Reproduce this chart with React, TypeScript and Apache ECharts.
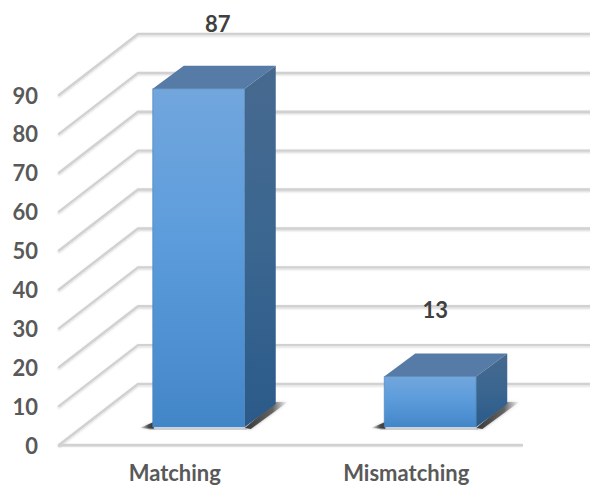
import React, { useEffect, useRef } from "react";
import * as echarts from "echarts";

const categories = ["Matching", "Mismatching"];
const values = [87, 13];
const yTicks = [0, 10, 20, 30, 40, 50, 60, 70, 80, 90];

const FONT = "Lato, Carlito, 'Open Sans', sans-serif";
const WALL_DX = 79;
const WALL_DY = -61;
const BAR_SHIFT_X = 24;
const BAR_SHIFT_Y = -18;
const BAR_W = 92;
const DEPTH_X = 31;
const DEPTH_Y = -23;
const LABEL_DX = [19, 5];
const LABEL_DY = [-65, -67];

const vGrad = (stops: [number, string][]) =>
  new echarts.graphic.LinearGradient(0, 0, 0, 1, stops.map(([offset, color]) => ({ offset, color })));
const hGrad = (x: number, y: number, x2: number, y2: number, stops: [number, string][]) =>
  new echarts.graphic.LinearGradient(x, y, x2, y2, stops.map(([offset, color]) => ({ offset, color })));

const renderGrid = (params: any, api: any) => {
  const y = api.coord([0, api.value(1)])[1];
  const x0 = params.coordSys.x;
  const x1 = x0 + params.coordSys.width;
  const style = {
    fill: "none",
    stroke: "#d1d1d1",
    lineWidth: 2.4,
    lineJoin: "round",
    lineCap: "round",
    shadowColor: "rgba(0,0,0,0.18)",
    shadowBlur: 2,
    shadowOffsetY: 1,
  };
  const children: any[] = [
    {
      type: "polyline",
      shape: { points: [[x0, y], [x0 + WALL_DX, y + WALL_DY], [x1 + WALL_DX, y + WALL_DY]] },
      style,
    },
  ];
  if (api.value(1) === 0) {
    children.push({
      type: "line",
      shape: { x1: x0, y1: y + 1, x2: x1, y2: y + 1 },
      style: { stroke: "rgba(0,0,0,0.1)", lineWidth: 2.4, lineCap: "round" },
    });
    children.push({
      type: "line",
      shape: { x1: x0, y1: y, x2: x1, y2: y },
      style: { stroke: "#d1d1d1", lineWidth: 2.4, lineCap: "round" },
    });
  }
  return { type: "group", children };
};

const renderBar = (params: any, api: any) => {
  const idx = api.value(0);
  const val = api.value(1);
  const top = api.coord([idx, val]);
  const base = api.coord([idx, 0]);
  const l = top[0] + BAR_SHIFT_X - BAR_W / 2;
  const r = l + BAR_W;
  const t = top[1] + BAR_SHIFT_Y;
  const b = base[1] + BAR_SHIFT_Y;
  return {
    type: "group",
    children: [
      {
        type: "polygon",
        shape: { points: [[r, b + 1], [r + DEPTH_X, b + DEPTH_Y - 2], [r + DEPTH_X + 12, b + DEPTH_Y - 2], [r + 6, b + 2]] },
        style: {
          fill: hGrad(0, 0, 1, 0, [[0, "rgba(40,40,40,0.9)"], [0.65, "rgba(70,70,70,0.75)"], [1, "rgba(150,150,150,0.05)"]]),
          shadowColor: "rgba(90,90,90,0.6)",
          shadowBlur: 3,
        },
      },
      {
        type: "polygon",
        shape: { points: [[l - 13, b + 1], [l + 1, b - 5], [l + 1, b + 2]] },
        style: {
          fill: hGrad(0, 0, 1, 0, [[0, "rgba(120,120,120,0.1)"], [0.6, "rgba(55,55,55,0.85)"], [1, "rgba(40,40,40,0.95)"]]),
          shadowColor: "rgba(90,90,90,0.4)",
          shadowBlur: 2,
        },
      },
      {
        type: "line",
        shape: { x1: l - 4, y1: b + 2, x2: r + 2, y2: b + 2 },
        style: { stroke: "rgba(140,140,140,0.55)", lineWidth: 1.5 },
      },
      {
        type: "rect",
        shape: { x: l, y: t, width: BAR_W, height: b - t },
        style: {
          fill: vGrad([[0, "#72a6dd"], [0.45, "#5c9cdc"], [1, "#4386c8"]]),
          stroke: "#4f86bd",
          lineWidth: 0.7,
        },
      },
      {
        type: "polygon",
        shape: { points: [[l, t], [l + DEPTH_X, t + DEPTH_Y], [r + DEPTH_X, t + DEPTH_Y], [r, t]] },
        style: { fill: "#567ba6" },
      },
      {
        type: "polygon",
        shape: { points: [[r, t], [r + DEPTH_X, t + DEPTH_Y], [r + DEPTH_X, b + DEPTH_Y], [r, b]] },
        style: { fill: vGrad([[0, "#47698f"], [0.5, "#3a6690"], [1, "#2b5a8a"]]) },
      },
      {
        type: "text",
        x: r - BAR_W / 2 + LABEL_DX[idx],
        y: t + LABEL_DY[idx],
        style: {
          text: String(val),
          fill: "#404040",
          font: `bold 22px ${FONT}`,
          align: "center",
          verticalAlign: "middle",
        },
      },
    ],
  };
};

export default function App() {
  const ref = useRef<HTMLDivElement>(null);
  useEffect(() => {
    document.body.style.margin = "0";
    document.body.style.background = "#fff";
    const chart = echarts.init(ref.current!, undefined, { renderer: "svg" });
    chart.setOption({
      animation: false,
      backgroundColor: "#ffffff",
      grid: { left: 59, top: 95, width: 463, height: 350, containLabel: false },
      xAxis: {
        type: "category",
        data: categories,
        axisLine: { show: false },
        axisTick: { show: false },
        axisLabel: { color: "#595959", fontFamily: FONT, fontWeight: "bold", fontSize: 22, margin: 16 },
      },
      yAxis: {
        type: "value",
        min: 0,
        max: 90,
        interval: 10,
        splitLine: { show: false },
        axisLine: { show: false },
        axisTick: { show: false },
        axisLabel: { color: "#595959", fontFamily: FONT, fontWeight: "bold", fontSize: 22, margin: 21 },
      },
      series: [
        {
          type: "custom",
          silent: true,
          z: 1,
          clip: false,
          renderItem: renderGrid,
          encode: { x: 0, y: 1 },
          data: yTicks.map((t) => [0, t]),
        },
        {
          type: "custom",
          z: 2,
          clip: false,
          renderItem: renderBar,
          encode: { x: 0, y: 1 },
          data: values.map((v, i) => [i, v]),
        },
      ],
    });
    return () => chart.dispose();
  }, []);
  return <div ref={ref} style={{ width: 590, height: 485 }} />;
}
